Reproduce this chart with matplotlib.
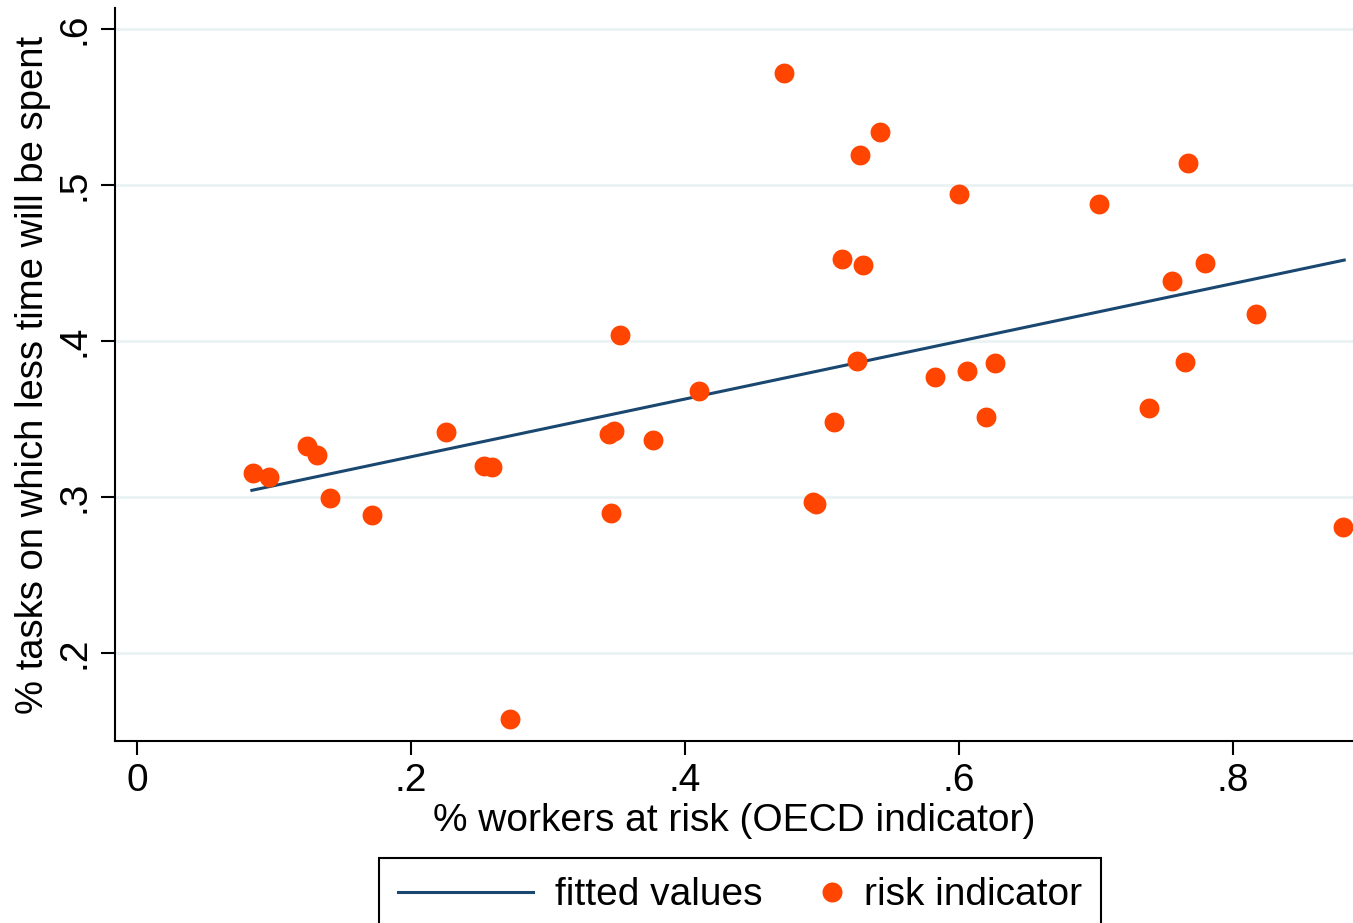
import matplotlib
matplotlib.use("Agg")
import matplotlib.pyplot as plt
from matplotlib.legend_handler import HandlerBase
from matplotlib.lines import Line2D

plt.rcParams["font.family"] = ["Liberation Sans", "DejaVu Sans"]

# risk indicator points
risk_x = [0.0845, 0.0966, 0.1241, 0.1314, 0.1409, 0.1715, 0.2255, 0.2533, 0.2589,
          0.2723, 0.3445, 0.3485, 0.3460, 0.3526, 0.3766, 0.4104, 0.4723, 0.4937,
          0.4956, 0.5090, 0.5146, 0.5253, 0.5277, 0.5299, 0.5423, 0.5825, 0.6002,
          0.6056, 0.6195, 0.6263, 0.7024, 0.7390, 0.7557, 0.7650, 0.7670, 0.7796,
          0.8168, 0.8803]
risk_y = [0.3152, 0.3126, 0.3327, 0.3269, 0.2992, 0.2882, 0.3417, 0.3199, 0.3190,
          0.1577, 0.3404, 0.3425, 0.2895, 0.4038, 0.3365, 0.3679, 0.5718, 0.2966,
          0.2955, 0.3479, 0.4526, 0.3872, 0.5192, 0.4487, 0.5340, 0.3767, 0.4942,
          0.3810, 0.3516, 0.3861, 0.4876, 0.3573, 0.4385, 0.3865, 0.5141, 0.4498,
          0.4171, 0.2808]

# fitted line end points
fit_x = [0.0839, 0.8812]
fit_y = [0.3043, 0.4519]

x_ticks = [0, 0.2, 0.4, 0.6, 0.8]
x_tick_labels = ["0", ".2", ".4", ".6", ".8"]
y_ticks = [0.2, 0.3, 0.4, 0.5, 0.6]
y_tick_labels = [".2", ".3", ".4", ".5", ".6"]

NAVY = "#1a476f"
ORANGE = "#ff4500"
FS = 28


class MarkerAtEnd(HandlerBase):
    # put the legend dot near the right end of the handle box
    def create_artists(self, legend, orig_handle, xdescent, ydescent,
                       width, height, fontsize, trans):
        dot = Line2D([width - xdescent - 7], [height / 2 - ydescent],
                     marker="o", linestyle="none", color=ORANGE,
                     markersize=14.4, markeredgewidth=0)
        dot.set_transform(trans)
        return [dot]


fig = plt.figure(figsize=(13.53, 9.23), dpi=100)
ax = fig.add_axes([115 / 1353, 182 / 923, 1238 / 1353, 733 / 923])

ax.plot(fit_x, fit_y, color=NAVY, linewidth=2.2, zorder=2)
ax.scatter(risk_x, risk_y, s=205, color=ORANGE, linewidths=0, zorder=3)

ax.set_xlim(-0.016, 0.8876)
ax.set_ylim(0.1436, 0.6135)
ax.set_xticks(x_ticks)
ax.set_xticklabels(x_tick_labels)
ax.set_yticks(y_ticks)
ax.set_yticklabels(y_tick_labels, rotation=90, va="center")
ax.tick_params(axis="both", labelsize=FS, width=1.5, length=10)
ax.tick_params(axis="x", pad=6)
ax.tick_params(axis="y", pad=6)

ax.grid(axis="y", color="#eaf2f3", linewidth=2)
ax.set_axisbelow(True)
for side in ["top", "right"]:
    ax.spines[side].set_visible(False)
for side in ["left", "bottom"]:
    ax.spines[side].set_linewidth(1.5)

ax.set_xlabel("% workers at risk (OECD indicator)", fontsize=FS, labelpad=3)
ax.set_ylabel("% tasks on which less time will be spent", fontsize=27.5, labelpad=4)

line_handle = Line2D([], [], color=NAVY, linewidth=2.2)
dot_handle = Line2D([], [], color=ORANGE, marker="o", linestyle="none")
leg = fig.legend([line_handle, dot_handle], ["fitted values", "risk indicator"],
                 loc="upper center", bbox_to_anchor=(740 / 1353, 1 - 858 / 923),
                 ncol=2, fontsize=FS, handlelength=3.47, handletextpad=0.57,
                 columnspacing=-1.45, borderpad=0.5, borderaxespad=0,
                 fancybox=False, framealpha=1, edgecolor="black",
                 handler_map={dot_handle: MarkerAtEnd()})
leg.get_frame().set_linewidth(1.5)

fig.savefig("out.png", dpi=100)
